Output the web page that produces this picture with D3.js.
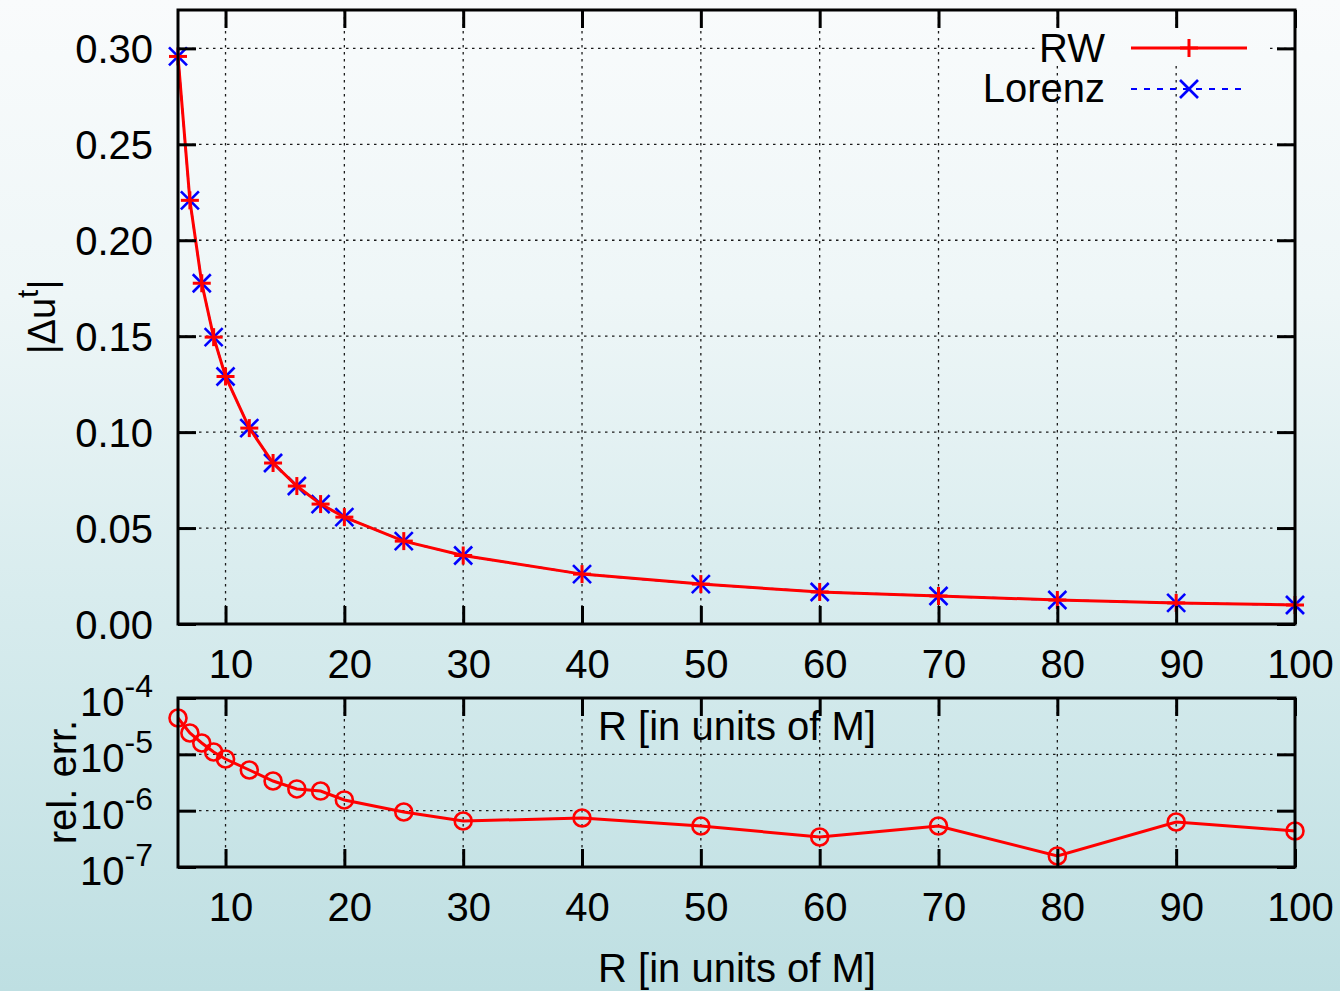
<!DOCTYPE html>
<html>
<head>
<meta charset="utf-8">
<script src="https://cdn.jsdelivr.net/npm/d3@7/dist/d3.min.js"></script>
<style>
  html, body { margin: 0; padding: 0; background: #fff; }
  svg { display: block; font-family: "Liberation Sans", Arial, sans-serif; }
</style>
</head>
<body>
<svg id="chart" width="1340" height="991"></svg>
<script>
// Orbital radius R (in units of M)
const radii = [6, 7, 8, 9, 10, 12, 14, 16, 18, 20, 25, 30, 40, 50, 60, 70, 80, 90, 100];
// |Δu^t| from the RW computation
const rwDelta = [0.2958, 0.2208, 0.1776, 0.1495, 0.1290, 0.1021, 0.0839, 0.0719, 0.0625, 0.0557,
                 0.0432, 0.0357, 0.0260, 0.0208, 0.0167, 0.0146, 0.0125, 0.0110, 0.0099];
// |Δu^t| from the Lorenz-gauge computation
const lorenzDelta = [0.2958, 0.2208, 0.1776, 0.1495, 0.1290, 0.1021, 0.0839, 0.0719, 0.0625, 0.0557,
                     0.0432, 0.0357, 0.0260, 0.0208, 0.0167, 0.0146, 0.0125, 0.0110, 0.0099];
// relative difference between the two
const relErr = [4.42e-5, 2.39e-5, 1.59e-5, 1.10e-5, 8.26e-6, 5.27e-6, 3.36e-6, 2.43e-6, 2.23e-6, 1.55e-6,
                9.46e-7, 6.55e-7, 7.4e-7, 5.35e-7, 3.41e-7, 5.35e-7, 1.57e-7, 6.29e-7, 4.36e-7];

const xTicks = [10, 20, 30, 40, 50, 60, 70, 80, 90, 100];
const yTopTicks = [0, 0.05, 0.10, 0.15, 0.20, 0.25, 0.30];
const yBotTicks = [1e-7, 1e-6, 1e-5, 1e-4];
const seriesNames = ["RW", "Lorenz"];

const svg = d3.select("#chart");
const W = 1340, H = 991;

// background gradient
const defs = svg.append("defs");
const grad = defs.append("linearGradient").attr("id", "bg")
  .attr("gradientUnits", "userSpaceOnUse")
  .attr("x1", 0).attr("y1", 0).attr("x2", 0).attr("y2", H);
[[0, "#f9fbfc"], [0.3, "#eef6f7"], [0.6, "#d8ecee"], [1, "#bedfe2"]].forEach(([o, c]) =>
  grad.append("stop").attr("offset", o).attr("stop-color", c));
svg.append("rect").attr("width", W).attr("height", H).attr("fill", "url(#bg)");

const left = 178, right = 1295;
const x = d3.scaleLinear().domain([6, 100]).range([left, right]);
const yTop = d3.scaleLinear().domain([0, 0.32]).range([624, 10]);
const yBot = d3.scaleLog().domain([1e-7, 1e-4]).range([867, 698]);

const TICK = 18;
const FS = 40;

function grid(g, yScale, yTicks, yTop0, yBot0) {
  g.selectAll("line.vg").data(xTicks).join("line")
    .attr("x1", d => x(d)).attr("x2", d => x(d))
    .attr("y1", yTop0).attr("y2", yBot0);
  g.selectAll("line.hg").data(yTicks).join("line")
    .attr("x1", left).attr("x2", right)
    .attr("y1", d => yScale(d)).attr("y2", d => yScale(d));
  g.selectAll("line").attr("stroke", "#222").attr("stroke-width", 1.3).attr("stroke-dasharray", "2.5,4.5");
}

function frame(yScale, yTicks, yTop0, yBot0, showTopLabels) {
  const g = svg.append("g");
  // grid
  const gg = g.append("g");
  gg.selectAll("line.v").data(xTicks).join("line").attr("class", "v")
    .attr("x1", d => x(d)).attr("x2", d => x(d)).attr("y1", yTop0).attr("y2", yBot0);
  gg.selectAll("line.h").data(yTicks.filter(t => yScale(t) > yTop0 + 1 && yScale(t) < yBot0 - 1))
    .join("line").attr("class", "h")
    .attr("x1", left).attr("x2", right).attr("y1", d => yScale(d)).attr("y2", d => yScale(d));
  gg.selectAll("line").attr("stroke", "#1a1a1a").attr("stroke-width", 1.3).attr("stroke-dasharray", "2.5,4.5");
  return g;
}

function axes(yScale, yTicks, yTop0, yBot0, yFormat) {
  const g = svg.append("g");
  const style = sel => {
    sel.select(".domain").remove();
    sel.selectAll(".tick line").attr("stroke", "#000").attr("stroke-width", 3);
    sel.selectAll(".tick text").attr("font-size", FS).attr("fill", "#000")
      .attr("font-family", "Liberation Sans, Arial, sans-serif");
    sel.attr("font-family", null).attr("font-size", null);
  };
  // bottom
  g.append("g").attr("transform", `translate(0,${yBot0})`)
    .call(d3.axisBottom(x).tickValues(xTicks).tickSizeInner(-TICK).tickSizeOuter(0).tickPadding(26).tickFormat(d3.format("d")))
    .call(style)
    .selectAll(".tick text").attr("dx", 5);
  // top
  g.append("g").attr("transform", `translate(0,${yTop0})`)
    .call(d3.axisTop(x).tickValues(xTicks).tickSizeInner(-TICK).tickSizeOuter(0).tickFormat(""))
    .call(style);
  // left
  const gl = g.append("g").attr("transform", `translate(${left},0)`)
    .call(d3.axisLeft(yScale).tickValues(yTicks).tickSizeInner(-TICK).tickSizeOuter(0).tickPadding(25).tickFormat(yFormat || ""))
    .call(style);
  gl.selectAll(".tick text").attr("dy", "0.36em");
  // right
  g.append("g").attr("transform", `translate(${right},0)`)
    .call(d3.axisRight(yScale).tickValues(yTicks).tickSizeInner(-TICK).tickSizeOuter(0).tickFormat(""))
    .call(style);
  // border
  g.append("rect").attr("x", left).attr("y", yTop0).attr("width", right - left).attr("height", yBot0 - yTop0)
    .attr("fill", "none").attr("stroke", "#000").attr("stroke-width", 3);
  return { g, gl };
}

// ---------- upper panel: |Δu^t| ----------
frame(yTop, yTopTicks, 10, 624);

// key area is opaque over the first row
svg.append("rect").attr("x", 1038).attr("y", 29).attr("width", 232).attr("height", 37).attr("fill", "url(#bg)");

const lineTop = d3.line().x((d, i) => x(radii[i])).y(d => yTop(d));

// Lorenz: blue dashed with crosses
svg.append("path").datum(lorenzDelta).attr("d", lineTop)
  .attr("fill", "none").attr("stroke", "#0000ff").attr("stroke-width", 2).attr("stroke-dasharray", "6,7");
const cross = (g, cx, cy, s) => {
  g.append("line").attr("x1", cx - s).attr("y1", cy - s).attr("x2", cx + s).attr("y2", cy + s);
  g.append("line").attr("x1", cx - s).attr("y1", cy + s).attr("x2", cx + s).attr("y2", cy - s);
};
const plus = (g, cx, cy, s) => {
  g.append("line").attr("x1", cx - s).attr("y1", cy).attr("x2", cx + s).attr("y2", cy);
  g.append("line").attr("x1", cx).attr("y1", cy - s).attr("x2", cx).attr("y2", cy + s);
};
const gx = svg.append("g").attr("stroke", "#0000ff").attr("stroke-width", 2.6);
lorenzDelta.forEach((v, i) => cross(gx, x(radii[i]), yTop(v), 9));

// RW: red solid with plus markers
svg.append("path").datum(rwDelta).attr("d", lineTop)
  .attr("fill", "none").attr("stroke", "#ff0000").attr("stroke-width", 3);
const gp = svg.append("g").attr("stroke", "#ff0000").attr("stroke-width", 3);
rwDelta.forEach((v, i) => plus(gp, x(radii[i]), yTop(v), 9));

axes(yTop, yTopTicks, 10, 624, d3.format(".2f"));

// key
const key = svg.append("g").attr("font-size", FS).attr("fill", "#000");
key.append("text").attr("x", 1105).attr("y", 62).attr("text-anchor", "end").text(seriesNames[0]);
key.append("text").attr("x", 1105).attr("y", 102).attr("text-anchor", "end").text(seriesNames[1]);
key.append("line").attr("x1", 1131).attr("x2", 1247).attr("y1", 48).attr("y2", 48)
  .attr("stroke", "#ff0000").attr("stroke-width", 3);
plus(key.append("g").attr("stroke", "#ff0000").attr("stroke-width", 3), 1189, 48, 9);
key.append("line").attr("x1", 1131).attr("x2", 1242).attr("y1", 89).attr("y2", 89)
  .attr("stroke", "#0000ff").attr("stroke-width", 2).attr("stroke-dasharray", "6,7");
cross(key.append("g").attr("stroke", "#0000ff").attr("stroke-width", 2.6), 1189, 89, 9);

// y label
const yl = svg.append("text").attr("transform", "translate(55,317) rotate(-90)")
  .attr("text-anchor", "middle").attr("font-size", 38).attr("fill", "#000");
yl.append("tspan").text("|Δu");
yl.append("tspan").attr("font-size", 30).attr("dy", -17).text("t");
yl.append("tspan").attr("dy", 17).text("|");

// ---------- lower panel: relative error ----------
frame(yBot, yBotTicks, 698, 867);

const lineBot = d3.line().x((d, i) => x(radii[i])).y(d => yBot(d));
svg.append("path").datum(relErr).attr("d", lineBot)
  .attr("fill", "none").attr("stroke", "#ff0000").attr("stroke-width", 3);
svg.append("g").selectAll("circle").data(relErr).join("circle")
  .attr("cx", (d, i) => x(radii[i])).attr("cy", d => yBot(d)).attr("r", 8.5)
  .attr("fill", "none").attr("stroke", "#ff0000").attr("stroke-width", 2.6);

const { gl } = axes(yBot, yBotTicks, 698, 867, null);
gl.selectAll(".tick").each(function (d) {
  const t = d3.select(this).append("text").attr("fill", "#000").attr("font-size", FS)
    .attr("text-anchor", "end").attr("x", -25).attr("y", 17.5);
  t.append("tspan").text("10");
  t.append("tspan").attr("font-size", 32).attr("dy", -19).text(String(Math.round(Math.log10(d))));
});

// x labels
svg.append("text").attr("x", 737).attr("y", 740).attr("text-anchor", "middle")
  .attr("font-size", FS).attr("fill", "#000").text("R [in units of M]");
svg.append("text").attr("x", 737).attr("y", 982).attr("text-anchor", "middle")
  .attr("font-size", FS).attr("fill", "#000").text("R [in units of M]");

svg.append("text").attr("transform", "translate(76,782) rotate(-90)")
  .attr("text-anchor", "middle").attr("font-size", FS).attr("fill", "#000").text("rel. err.");
</script>
</body>
</html>
